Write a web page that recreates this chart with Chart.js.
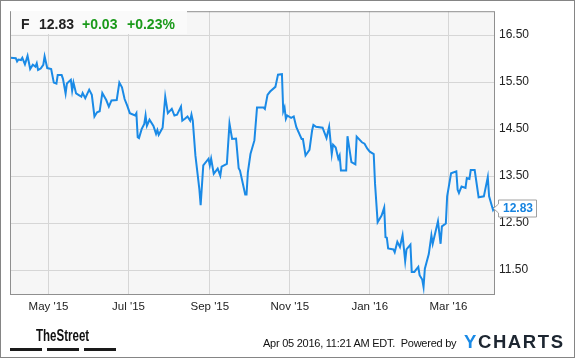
<!DOCTYPE html>
<html>
<head>
<meta charset="utf-8">
<title>F – Ford Motor price chart</title>
<script src="https://cdn.jsdelivr.net/npm/chart.js@4.4.1/dist/chart.umd.min.js"></script>
<style>
    html, body { margin: 0; padding: 0; background: #fff; }
    #wrap {
        position: relative; width: 575px; height: 358px; overflow: hidden;
        font-family: 'Liberation Sans', Arial, sans-serif; color: #222;
    }
    #chart { position: absolute; left: 0; top: 0; }
    #frame {
        position: absolute; left: 0; top: 0; width: 575px; height: 358px;
        box-sizing: border-box; border: 1px solid #858585; pointer-events: none;
    }
    #quote {
        position: absolute; left: 11px; top: 11px; width: 176px; height: 23px;
        background: #fafafa; font-weight: bold; font-size: 14px; line-height: 26px;
    }
    #quote span { position: absolute; top: 0; white-space: nowrap; }
    .up { color: #1a9a1a; }
    #stamp {
        position: absolute; left: 263px; top: 338px; font-size: 11px; line-height: 11px;
        letter-spacing: -0.25px; white-space: nowrap; color: #111;
    }
    #ycharts {
        position: absolute; left: 464px; top: 332px; font-size: 18.5px; line-height: 19px;
        font-weight: bold; letter-spacing: 1.6px; color: #1d2631; white-space: nowrap;
    }
    #ycharts b { color: #1a8ae6; }
    #street {
        position: absolute; left: 36px; top: 328px; font-size: 16px; line-height: 16px;
        font-weight: bold; color: #111; white-space: nowrap;
        transform: scaleX(0.72); transform-origin: left top;
    }
    .bar { position: absolute; top: 348px; height: 3px; background: #1a1a1a; }
</style>
</head>
<body>
<div id="wrap">
    <canvas id="chart" width="575" height="358"></canvas>
    <div id="quote">
        <span style="left:10px">F</span>
        <span style="left:28px">12.83</span>
        <span class="up" style="left:71px">+0.03</span>
        <span class="up" style="left:116px">+0.23%</span>
    </div>
    <div id="street">TheStreet</div>
    <div class="bar" style="left:10px;width:32px"></div>
    <div class="bar" style="left:47px;width:32px"></div>
    <div class="bar" style="left:84px;width:32px"></div>
    <div id="stamp">Apr 05 2016, 11:21 AM EDT.&nbsp; Powered by</div>
    <div id="ycharts"><b>Y</b>CHARTS</div>
    <div id="frame"></div>
</div>
<script>
// ── Data ────────────────────────────────────────────────────
const dates = [
    '2015-04-02','2015-04-06','2015-04-07','2015-04-08','2015-04-10','2015-04-11','2015-04-12','2015-04-13',
    '2015-04-15','2015-04-17','2015-04-19','2015-04-21','2015-04-22','2015-04-23','2015-04-25','2015-04-27',
    '2015-04-28','2015-04-30','2015-05-03','2015-05-05','2015-05-07','2015-05-08','2015-05-11','2015-05-12',
    '2015-05-14','2015-05-15','2015-05-18','2015-05-19','2015-05-20','2015-05-22','2015-05-25','2015-05-26',
    '2015-05-27','2015-05-29','2015-06-01','2015-06-03','2015-06-05','2015-06-07','2015-06-09','2015-06-11',
    '2015-06-14','2015-06-16','2015-06-18','2015-06-22','2015-06-24','2015-06-26','2015-06-28','2015-06-30',
    '2015-07-02','2015-07-06','2015-07-07','2015-07-08','2015-07-09','2015-07-11','2015-07-13','2015-07-14',
    '2015-07-15','2015-07-17','2015-07-20','2015-07-22','2015-07-23','2015-07-24','2015-07-27','2015-07-29',
    '2015-07-31','2015-08-03','2015-08-05','2015-08-07','2015-08-10','2015-08-11','2015-08-13','2015-08-15',
    '2015-08-17','2015-08-18','2015-08-19','2015-08-21','2015-08-24','2015-08-25','2015-08-27','2015-08-31',
    '2015-09-01','2015-09-02','2015-09-04','2015-09-07','2015-09-09','2015-09-10','2015-09-14','2015-09-16',
    '2015-09-18','2015-09-21','2015-09-23','2015-09-24','2015-09-28','2015-09-29','2015-09-30','2015-10-02',
    '2015-10-05','2015-10-07','2015-10-12','2015-10-13','2015-10-15','2015-10-17','2015-10-21','2015-10-23',
    '2015-10-26','2015-10-27','2015-10-28','2015-10-29','2015-10-30','2015-11-02','2015-11-04','2015-11-06',
    '2015-11-10','2015-11-11','2015-11-13','2015-11-16','2015-11-18','2015-11-19','2015-11-21','2015-11-26',
    '2015-11-29','2015-12-01','2015-12-03','2015-12-04','2015-12-06','2015-12-08','2015-12-09','2015-12-10',
    '2015-12-14','2015-12-15','2015-12-18','2015-12-21','2015-12-22','2015-12-26','2015-12-28','2015-12-30',
    '2016-01-01','2016-01-04','2016-01-05','2016-01-07','2016-01-10','2016-01-12','2016-01-13','2016-01-14',
    '2016-01-15','2016-01-19','2016-01-20','2016-01-22','2016-01-24','2016-01-26','2016-01-28','2016-01-29',
    '2016-02-01','2016-02-02','2016-02-04','2016-02-05','2016-02-07','2016-02-08','2016-02-10','2016-02-11',
    '2016-02-12','2016-02-15','2016-02-17','2016-02-18','2016-02-22','2016-02-24','2016-02-25','2016-02-28',
    '2016-02-29','2016-03-03','2016-03-07','2016-03-08','2016-03-09','2016-03-11','2016-03-14','2016-03-15',
    '2016-03-17','2016-03-18','2016-03-21','2016-03-24','2016-03-28','2016-03-31','2016-04-01','2016-04-04',
    '2016-04-05'
];

const prices = [
    16.02, 16.01, 15.94, 15.98, 15.97, 16.02, 15.95, 15.88,
    16.06, 15.78, 15.87, 15.83, 15.90, 15.76, 15.79, 15.87,
    16.05, 15.80, 15.78, 15.49, 15.47, 15.65, 15.65, 15.57,
    15.26, 15.47, 15.55, 15.32, 15.49, 15.26, 15.21, 15.19,
    15.27, 15.16, 15.34, 15.23, 14.77, 14.86, 14.88, 15.27,
    15.12, 14.98, 15.11, 15.12, 15.49, 15.39, 15.14, 15.00,
    14.84, 14.79, 14.84, 14.33, 14.31, 14.50, 14.61, 14.79,
    14.57, 14.70, 14.57, 14.40, 14.48, 14.38, 14.53, 15.19,
    14.84, 14.93, 14.79, 14.81, 14.98, 14.68, 14.72, 14.77,
    14.68, 14.81, 14.68, 13.94, 13.23, 12.88, 13.73, 13.87,
    13.73, 13.87, 13.55, 13.66, 13.51, 13.70, 13.76, 14.62,
    14.29, 14.30, 13.67, 13.62, 13.11, 13.11, 13.58, 13.97,
    14.26, 14.96, 14.96, 14.93, 15.23, 15.30, 15.40, 15.66,
    15.67, 14.88, 14.96, 14.72, 14.79, 14.74, 14.77, 14.54,
    14.29, 14.29, 13.94, 14.06, 14.47, 14.59, 14.55, 14.53,
    14.31, 14.55, 13.97, 14.17, 14.11, 13.87, 13.94, 13.62,
    13.62, 14.35, 13.80, 13.75, 14.34, 14.22, 14.19, 14.09,
    14.02, 13.97, 13.34, 12.52, 12.66, 12.83, 12.20, 12.19,
    11.96, 11.94, 11.88, 12.10, 11.99, 12.24, 11.69, 11.94,
    12.04, 11.46, 11.46, 11.50, 11.57, 11.39, 11.30, 11.14,
    11.53, 11.84, 12.24, 12.06, 12.54, 12.06, 12.43, 12.49,
    13.07, 13.56, 13.60, 13.21, 13.14, 13.28, 13.25, 13.46,
    13.44, 13.63, 13.63, 13.05, 13.07, 13.48, 13.07, 12.78,
    12.83
];

const yTicks = [11.5, 12.5, 13.5, 14.5, 15.5, 16.5];
const xTickDates = ['2015-05-01', '2015-07-01', '2015-09-01', '2015-11-01', '2016-01-01', '2016-03-01'];
const xTickLabels = ["May '15", "Jul '15", "Sep '15", "Nov '15", "Jan '16", "Mar '16"];

// ── Helpers ─────────────────────────────────────────────────
const ORIGIN = Date.UTC(2015, 3, 2);
function dayNum(iso) {
    const [y, m, d] = iso.split('-').map(Number);
    return (Date.UTC(y, m - 1, d) - ORIGIN) / 86400000;
}

const LINE_BLUE = '#1a8ae6';
const FONT = "'Liberation Sans', Arial, sans-serif";

Chart.defaults.font.family = FONT;
Chart.defaults.color = '#222';

// plot background, frame and the last-price callout
const plotFrame = {
    id: 'plotFrame',
    beforeDraw(chart) {
        const { ctx, chartArea: a } = chart;
        ctx.save();
        ctx.fillStyle = '#f6f6f6';
        ctx.fillRect(a.left, a.top, a.right - a.left, a.bottom - a.top);
        ctx.restore();
    },
    afterDraw(chart) {
        const { ctx, chartArea: a } = chart;
        ctx.save();
        ctx.strokeStyle = '#8f8f8f';
        ctx.lineWidth = 1;
        ctx.strokeRect(a.left + 0.5, a.top + 0.5, a.right - a.left - 1, a.bottom - a.top - 1);

        const last = prices[prices.length - 1];
        const px = chart.scales.x.getPixelForValue(dayNum(dates[dates.length - 1]));
        const py = Math.round(chart.scales.y.getPixelForValue(last)) + 0.5;
        const bx = Math.round(px) + 4.5, w = 38, h = 17, by = py - 8.5;
        ctx.beginPath();
        ctx.moveTo(bx - 5, py);
        ctx.lineTo(bx, py - 4.5);
        ctx.lineTo(bx, by);
        ctx.lineTo(bx + w, by);
        ctx.lineTo(bx + w, by + h);
        ctx.lineTo(bx, by + h);
        ctx.lineTo(bx, py + 4.5);
        ctx.closePath();
        ctx.fillStyle = '#fff';
        ctx.fill();
        ctx.strokeStyle = '#a0a0a0';
        ctx.stroke();
        ctx.fillStyle = '#1784e0';
        ctx.font = 'bold 12px ' + FONT;
        ctx.textBaseline = 'middle';
        ctx.fillText(last.toFixed(2), bx + 4.5, py + 0.5);
        ctx.restore();
    }
};

new Chart(document.getElementById('chart'), {
    type: 'line',
    data: {
        datasets: [{
            data: dates.map((d, i) => ({ x: dayNum(d), y: prices[i] })),
            borderColor: LINE_BLUE,
            borderWidth: 2,
            pointRadius: 0,
            tension: 0,
            fill: false,
        }],
    },
    options: {
        responsive: false,
        animation: false,
        devicePixelRatio: 1,
        layout: { padding: { left: 10, top: 10, right: 0, bottom: 0 } },
        plugins: { legend: { display: false }, tooltip: { enabled: false } },
        scales: {
            x: {
                type: 'linear',
                min: -0.4,
                max: 369.5,
                grid: { color: '#d6d6d6', drawTicks: false },
                border: { display: false },
                afterBuildTicks: (s) => { s.ticks = xTickDates.map(d => ({ value: dayNum(d) })); },
                afterFit: (s) => { s.height = 63; },
                ticks: {
                    autoSkip: false,
                    maxRotation: 0,
                    padding: 5,
                    font: { size: 11.5 },
                    color: '#222',
                    callback: (v, i) => xTickLabels[i],
                },
            },
            y: {
                position: 'right',
                min: 10.97,
                max: 17.01,
                grid: { color: '#d6d6d6', drawTicks: false },
                border: { display: false },
                afterBuildTicks: (s) => { s.ticks = yTicks.map(v => ({ value: v })); },
                afterFit: (s) => { s.width = 80; },
                ticks: {
                    padding: 4,
                    font: { size: 12 },
                    color: '#222',
                    callback: (v) => v.toFixed(2),
                },
            },
        },
    },
    plugins: [plotFrame],
});
</script>
</body>
</html>
